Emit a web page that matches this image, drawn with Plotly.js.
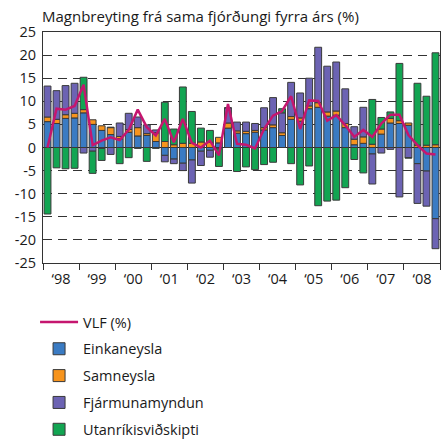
<!DOCTYPE html>
<html>
<head>
<meta charset="utf-8">
<script src="https://cdn.plot.ly/plotly-3.0.1.min.js"></script>
<style>html,body{margin:0;padding:0;background:#fff;}#chart{width:445px;height:441px;}</style>
</head>
<body>
<div id="chart"></div>
<script>
// Quarters 1998Q1 .. 2008Q4
const years = [1998,1999,2000,2001,2002,2003,2004,2005,2006,2007,2008];
const yearLabels = ['\u201898','\u201899','\u201800','\u201801','\u201802','\u201803','\u201804','\u201805','\u201806','\u201807','\u201808'];

const einkaneysla = [5.6,5.2,6.3,6.4, 7.5,5.0,3.7,2.8, 1.9,3.3,2.5,2.6, 1.3,-1.7,-2.5,-3.4, -2.7,-0.8,-0.6,1.0, 4.2,3.1,3.0,3.3, 3.8,4.3,2.6,6.1, 5.7,8.4,8.7,6.8, 7.0,4.3,0.6,0.9, -1.4,2.9,5.3,5.2, 4.8,-3.5,-5.1,-15.4];
const samneysla = [1.0,0.9,0.8,1.0, 0.7,1.0,1.0,1.5, 0.5,0.6,1.8,0.4, 1.9,1.3,0.6,0.9, 0.9,1.2,1.1,1.2, 1.1,0.5,0.5,0.4, 0.5,0.6,0.6,0.6, 0.7,0.6,1.0,0.9, 0.9,0.9,1.2,1.4, 0.7,1.1,1.0,0.6, 0.5,0.5,0.5,0.6];
const fjarmunamyndun = [6.7,6.2,6.3,6.5, -1.2,-0.8,-0.2,-1.5, 2.9,3.5,2.3,1.9, 0.6,-1.4,-1.0,-1.6, -5.0,-3.1,-1.5,-0.3, 3.3,1.9,2.0,1.5, 4.3,5.9,4.3,7.4, 5.4,6.0,12.0,9.9, 10.6,7.5,2.7,6.4, -6.5,-1.2,-0.4,-10.7, -2.2,-8.6,-7.6,-6.5];
const utanrikis = [-14.4,-4.4,-4.6,-4.5, 7.0,-4.8,-2.6,0.1, -3.5,-2.2,-0.2,-3.0, -0.2,8.5,3.4,12.2, 6.9,3.0,2.6,-3.8, 0.0,-5.2,-4.2,-4.8, -3.7,-3.2,0.9,-3.5, -8.1,-4.0,-12.6,-11.6, -11.4,-8.7,-2.6,-5.5, 9.7,2.5,1.4,12.4, -0.1,13.4,10.6,19.9];
const vlf = [0.0,8.4,8.2,9.0, 13.6,0.5,1.5,2.2, 1.6,3.8,8.2,4.4, 2.6,6.2,1.1,6.2, 1.0,0.0,1.5,-1.7, 9.4,0.8,0.6,-0.2, 4.0,6.9,7.9,11.1, 4.0,10.2,10.1,5.8, 7.0,4.8,2.3,3.8, 2.3,5.2,7.1,7.1, 2.7,0.5,-1.3,-1.5];

const xq = einkaneysla.map((_, i) => years[0] + (i + 0.5) / 4);
const outline = {color: '#3a3a3a', width: 1};
const barW = 0.19;

function barTrace(name, y, color) {
  return {type: 'bar', name: name, x: xq, y: y, width: barW, legendgroup: name,
          marker: {color: color, line: outline}, hoverinfo: 'x+y+name'};
}

const data = [
  {type: 'scatter', mode: 'lines', name: 'VLF (%)', x: xq, y: vlf, legendgroup: 'vlf',
   line: {color: '#c5166f', width: 2.5, shape: 'linear'}},
  barTrace('Einkaneysla', einkaneysla, '#3a7bc3'),
  barTrace('Samneysla', samneysla, '#f7941d'),
  barTrace('Fjármunamyndun', fjarmunamyndun, '#6c63b3'),
  barTrace('Utanríkisviðskipti', utanrikis, '#12a552')
];

const font = 'Open Sans, Noto Sans, sans-serif';
const fs = 14.5;
const layout = {
  width: 445, height: 441,
  margin: {l: 43, r: 5, t: 32, b: 178, autoexpand: false},
  paper_bgcolor: '#fff', plot_bgcolor: '#fff',
  barmode: 'relative',
  font: {family: font, size: fs, color: '#1a1a1a'},
  title: {text: 'Magnbreyting frá sama fjórðungi fyrra árs (%)', x: 42/445, xanchor: 'left',
          xref: 'container', y: 1 - 17/441, yref: 'container', yanchor: 'middle',
          font: {family: font, size: 15, color: '#1a1a1a'}},
  xaxis: {range: [1998, 2009], tickmode: 'array',
          tickvals: years.map(y => y + 0.5), ticktext: yearLabels,
          ticks: '', showgrid: false, zeroline: false,
          showline: true, linecolor: '#333', linewidth: 1, mirror: true,
          tickfont: {size: fs}, ticklabelstandoff: 3,
          minor: {tickmode: 'array', tickvals: years.concat([2009]), ticks: 'outside', ticklen: 6, tickcolor: '#333', tickwidth: 1, showgrid: false}},
  yaxis: {range: [-25, 25], tickmode: 'array', tickvals: [-25,-20,-15,-10,-5,0,5,10,15,20,25],
          ticktext: ['-25','-20','-15','-10','-5','0','5','10','15','20','25'],
          ticks: '', showgrid: true, gridcolor: '#333', gridwidth: 1, griddash: '9px,6px',
          zeroline: true, zerolinecolor: '#222', zerolinewidth: 1,
          showline: true, linecolor: '#333', linewidth: 1, mirror: true,
          ticklabelstandoff: 3, tickfont: {size: fs}},
  showlegend: true,
  legend: {orientation: 'v', x: -0.02, xanchor: 'left', y: -0.186, yanchor: 'top',
           traceorder: 'grouped', tracegroupgap: 5, font: {size: fs},
           bgcolor: 'rgba(0,0,0,0)', itemwidth: 38}
};

Plotly.newPlot('chart', data, layout, {displayModeBar: false, staticPlot: true});
</script>
</body>
</html>
